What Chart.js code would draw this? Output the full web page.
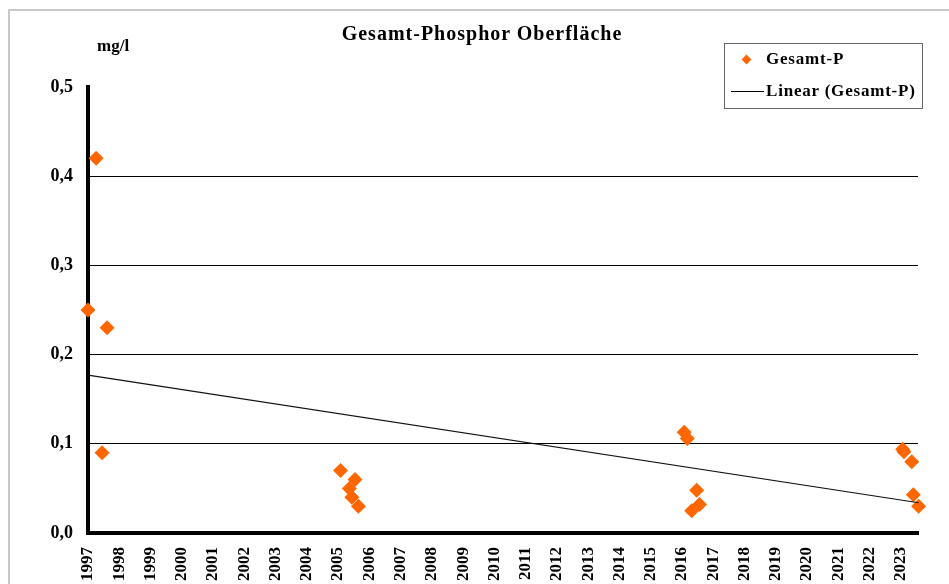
<!DOCTYPE html>
<html>
<head>
<meta charset="utf-8">
<script src="https://cdn.jsdelivr.net/npm/chart.js@4"></script>
<style>
  body { margin: 0; background: #fff; }
  #wrap { position: relative; width: 949px; height: 584px; overflow: hidden; font-family: 'Liberation Serif', 'Times New Roman', serif; }
  #frame { position: absolute; left: 8px; top: 9px; width: 1000px; height: 640px; border: 2px solid #c8c8c8; }
  canvas { position: absolute; left: 0; top: 0; }
  #title { position: absolute; left: 0; width: 964px; top: 22px; text-align: center; font-weight: bold; font-size: 20px; letter-spacing: 1px; }
  #unit { position: absolute; left: 97px; top: 36px; font-weight: bold; font-size: 17px; }
  #legend { position: absolute; left: 724px; top: 43px; width: 197px; height: 64px; border: 1.5px solid #666; font-weight: bold; font-size: 17px; letter-spacing: 0.8px; }
  .item { position: absolute; left: 41px; white-space: nowrap; }
  .dia { position: absolute; width: 7px; height: 7px; background: #FF6600; transform: rotate(45deg); }
  .ln { position: absolute; height: 1px; background: #000; }
</style>
</head>
<body>
<div id="wrap">
  <div id="frame"></div>
  <canvas id="chart" width="949" height="584"></canvas>
  <div id="title">Gesamt-Phosphor Oberfläche</div>
  <div id="unit">mg/l</div>
  <div id="legend">
    <div class="dia" style="left:18px; top:12px;"></div>
    <div class="item" style="top:5px;">Gesamt-P</div>
    <div class="ln" style="left:6px; width:33px; top:47px;"></div>
    <div class="item" style="top:37px;">Linear (Gesamt-P)</div>
  </div>
</div>
<script>
// Messzeitpunkte (Dezimaljahre) und Gesamt-P Werte in mg/l
const years = [
    1997.00, 1997.26, 1997.45, 1997.61,
    2005.08, 2005.36, 2005.44, 2005.54, 2005.65,
    2016.07, 2016.17, 2016.31, 2016.47, 2016.56,
    2023.06, 2023.10, 2023.35, 2023.40, 2023.57
];
const gesamtP = [
    0.25, 0.42, 0.09, 0.23,
    0.07, 0.05, 0.04, 0.06, 0.03,
    0.113, 0.106, 0.025, 0.048, 0.032,
    0.094, 0.091, 0.08, 0.043, 0.03
];
const yTicks = [0, 0.1, 0.2, 0.3, 0.4, 0.5];
const xMin = 1997;
const xMax = 2023.55;

// Lineare Regression fuer die Trendlinie
function linearTrend(xs, ys) {
    const n = xs.length;
    const mx = xs.reduce((a, b) => a + b, 0) / n;
    const my = ys.reduce((a, b) => a + b, 0) / n;
    let sxy = 0, sxx = 0;
    for (let i = 0; i < n; i++) {
        sxy += (xs[i] - mx) * (ys[i] - my);
        sxx += (xs[i] - mx) * (xs[i] - mx);
    }
    const slope = sxy / sxx;
    const icpt = my - slope * mx;
    const x0 = Math.min(...xs), x1 = Math.max(...xs);
    return [{ x: x0, y: icpt + slope * x0 }, { x: x1, y: icpt + slope * x1 }];
}

const points = years.map((y, i) => ({ x: y, y: gesamtP[i] }));
const trend = linearTrend(years, gesamtP);

const serif = "'Liberation Serif', 'Times New Roman', serif";

new Chart(document.getElementById('chart').getContext('2d'), {
    type: 'scatter',
    data: {
        datasets: [{
            type: 'line',
            label: 'Linear (Gesamt-P)',
            data: trend,
            borderColor: '#111',
            borderWidth: 1.2,
            pointRadius: 0,
            clip: false
        }, {
            label: 'Gesamt-P',
            data: points,
            pointStyle: 'rectRot',
            pointRadius: 7.5,
            backgroundColor: '#FF6600',
            borderColor: '#FF6600',
            borderWidth: 0,
            clip: false
        }]
    },
    options: {
        responsive: false,
        animation: false,
        layout: { padding: { top: 87, right: 31, bottom: 0, left: 0 } },
        plugins: {
            legend: { display: false },
            title: { display: false },
            tooltip: { enabled: false }
        },
        scales: {
            x: {
                type: 'linear',
                min: xMin,
                max: xMax,
                afterFit: function(scale) { scale.height = 51; },
                afterBuildTicks: function(scale) {
                    const t = [];
                    for (let y = 1997; y <= 2023; y++) t.push({ value: y });
                    scale.ticks = t;
                },
                grid: { display: false },
                border: { display: true, color: '#000', width: 4 },
                ticks: {
                    autoSkip: false,
                    minRotation: 90,
                    maxRotation: 90,
                    padding: 6,
                    color: '#000',
                    font: { family: serif, size: 17, weight: 'bold' },
                    callback: function(v) { return String(v); }
                }
            },
            y: {
                min: 0,
                max: 0.5,
                afterFit: function(scale) { scale.width = 88; },
                afterBuildTicks: function(scale) {
                    scale.ticks = yTicks.map(v => ({ value: v }));
                },
                grid: {
                    drawTicks: false,
                    lineWidth: 1,
                    color: function(ctx) {
                        return ctx.tick && ctx.tick.value >= 0.5 ? 'rgba(0,0,0,0)' : '#000';
                    }
                },
                border: { display: true, color: '#000', width: 4 },
                ticks: {
                    padding: 15,
                    color: '#000',
                    font: { family: serif, size: 18, weight: 'bold' },
                    callback: function(v) { return v.toFixed(1).replace('.', ','); }
                }
            }
        }
    }
});
</script>
</body>
</html>
